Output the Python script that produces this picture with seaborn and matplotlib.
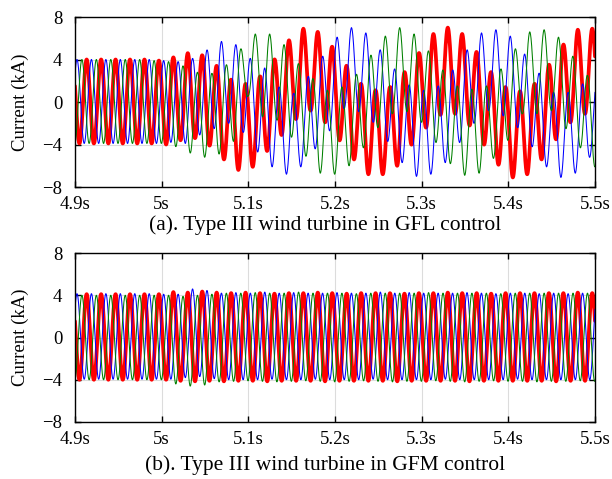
import numpy as np
import pandas as pd
import matplotlib
matplotlib.use("Agg")
import matplotlib.pyplot as plt
import seaborn as sns

# time window and grid frequency
t_start, t_end = 4.9, 5.5
f_grid = 60.0

# time of the first positive peak of each phase (s)
red_t0 = 4.9135
blue_t0 = 4.9190
green_t0 = 4.9080

# (a) GFL control: peak / trough value of every cycle (kA)
gfl_red_peaks = [4.0, 4.0, 4.0, 4.0, 4.0, 3.9, 4.2, 4.6, 4.4, 3.4, 2.1, 1.7,
                 2.4, 4.0, 5.8, 6.9, 6.6, 5.2, 3.4, 1.7, 1.1, 1.4, 2.8, 4.6,
                 6.4, 7.0, 6.4, 4.7, 2.8, 1.4, 1.0, 1.7, 3.5, 5.4, 6.8, 6.9]
gfl_red_troughs = [-3.9, -3.9, -3.9, -3.9, -3.9, -4.0, -3.6, -3.4, -4.1, -5.4, -6.4, -6.1,
                   -4.6, -3.1, -1.6, -0.8, -1.9, -3.6, -5.4, -6.8, -6.8, -6.0, -4.0, -2.4,
                   -1.2, -1.1, -2.2, -4.0, -5.9, -7.1, -6.8, -5.4, -3.5, -1.9, -1.1, -1.5]
gfl_blue_peaks = [4.0, 4.0, 4.0, 4.0, 4.0, 3.9, 3.8, 4.1, 4.9, 5.7, 5.4, 4.1,
                  3.2, 1.4, 0.8, 2.4, 4.3, 6.1, 7.0, 6.5, 4.9, 3.1, 1.6, 1.1,
                  1.5, 3.0, 4.9, 6.5, 6.8, 6.2, 4.5, 2.7, 0.9, 0.9, 1.7, 2.2]
gfl_blue_troughs = [-3.9, -3.9, -3.9, -3.9, -3.9, -3.8, -3.9, -3.1, -2.5, -2.0, -2.85, -4.7,
                    -6.1, -6.8, -6.1, -4.4, -2.7, -0.6, -0.9, -1.9, -3.7, -5.7, -7.0, -6.8,
                    -5.7, -3.8, -2.0, -0.8, -1.3, -2.4, -4.2, -6.1, -7.1, -6.7, -5.2, -3.5]
gfl_green_peaks = [4.0, 4.0, 4.0, 4.0, 4.0, 3.9, 3.8, 3.4, 2.8, 2.7, 3.5, 5.0,
                   6.4, 6.4, 5.4, 3.6, 2.2, 1.1, 1.4, 2.6, 4.4, 6.2, 7.0, 6.4,
                   4.8, 3.0, 1.5, 1.2, 1.5, 3.1, 5.0, 6.6, 6.8, 6.1, 4.3, 2.5]
gfl_green_troughs = [-3.9, -3.9, -3.9, -3.9, -3.9, -3.9, -4.2, -4.8, -5.2, -4.9, -3.7, 0.6,
                     -1.4, -1.7, -3.3, -5.1, -6.7, -6.8, -6.0, -4.3, -2.4, -1.1, -0.9, -1.9,
                     -3.8, -5.8, -6.9, -6.7, -5.3, -3.6, -1.1, -1.1, -0.8, -2.5, -4.3, -6.1]

# (b) GFM control
gfm_red_peaks = [4.1, 4.1, 4.1, 4.1, 4.1, 4.1, 4.3, 4.25, 4.35, 4.25, 4.2, 4.25,
                 4.2, 4.15, 4.2, 4.2, 4.25, 4.2, 4.15, 4.2, 4.2, 4.2, 4.15, 4.2,
                 4.2, 4.25, 4.2, 4.2, 4.15, 4.2, 4.2, 4.2, 4.2, 4.2, 4.25, 4.2]
gfm_red_troughs = [-4.0, -4.0, -4.0, -4.0, -4.0, -4.0, -4.1, -4.15, -4.1, -4.15, -4.1, -4.1,
                   -4.15, -4.1, -4.1, -4.1, -4.15, -4.1, -4.1, -4.1, -4.1, -4.15, -4.1, -4.1,
                   -4.1, -4.1, -4.15, -4.1, -4.1, -4.1, -4.1, -4.1, -4.15, -4.1, -4.1, -4.1]
gfm_blue_peaks = [4.15, 4.15, 4.15, 4.15, 4.15, 4.1, 4.1, 4.6, 4.45, 4.2, 4.25, 4.2,
                  4.3, 4.2, 4.25, 4.2, 4.2, 4.25, 4.2, 4.2, 4.3, 4.2, 4.25, 4.2,
                  4.2, 4.2, 4.25, 4.2, 4.15, 4.2, 4.2, 4.15, 4.2, 4.15, 4.2, 4.15]
gfm_blue_troughs = [-3.95, -3.95, -3.95, -3.95, -3.95, -3.95, -3.8, -3.7, -3.9, -4.0, -4.0, -4.0,
                    -3.95, -4.0, -4.0, -3.95, -4.0, -4.0, -4.0, -3.95, -4.0, -4.0, -4.0, -4.0,
                    -3.95, -4.0, -4.0, -4.0, -4.0, -3.95, -4.0, -4.0, -4.0, -4.0, -4.0, -4.0]
gfm_green_peaks = [4.0, 4.0, 4.0, 4.0, 4.0, 4.0, 4.0, 3.9, 4.0, 4.1, 4.2, 4.2,
                   4.25, 4.2, 4.2, 4.3, 4.2, 4.2, 4.2, 4.15, 4.2, 4.2, 4.2, 4.2,
                   4.25, 4.2, 4.2, 4.2, 4.2, 4.15, 4.2, 4.2, 4.2, 4.2, 4.2, 4.2]
gfm_green_troughs = [-4.0, -4.0, -4.0, -4.0, -4.0, -4.0, -4.4, -4.6, -4.5, -4.2, -4.15, -4.1,
                     -4.15, -4.2, -4.15, -4.1, -4.15, -4.2, -4.15, -4.1, -4.15, -4.2, -4.15, -4.15,
                     -4.1, -4.15, -4.2, -4.15, -4.1, -4.15, -4.15, -4.2, -4.15, -4.15, -4.1, -4.15]

x_ticks = [4.9, 5.0, 5.1, 5.2, 5.3, 5.4, 5.5]
x_tick_labels = ["4.9s", "5s", "5.1s", "5.2s", "5.3s", "5.4s", "5.5s"]
y_ticks = [-8, -4, 0, 4, 8]
captions = ["(a). Type III wind turbine in GFL control",
            "(b). Type III wind turbine in GFM control"]


def build_wave(t, t0, peaks, troughs):
    # sine at grid frequency riding on the peak / trough envelopes
    k = np.arange(len(peaks))
    tp = t0 + k / f_grid
    tt = tp + 0.5 / f_grid
    up = np.interp(t, tp, peaks)
    lo = np.interp(t, tt, troughs)
    return (up + lo) / 2 + (up - lo) / 2 * np.cos(2 * np.pi * f_grid * (t - t0))


t = np.linspace(t_start, t_end, 4001)

sns.set_style("white")
plt.rcParams["font.family"] = ["Liberation Serif", "DejaVu Serif"]
plt.rcParams["text.color"] = "black"
plt.rcParams["axes.labelcolor"] = "black"

fig = plt.figure(figsize=(6.12, 4.79), dpi=100)
ax_a = fig.add_axes([0.1225, 0.6096, 0.8497, 0.3549])
ax_b = fig.add_axes([0.1225, 0.1190, 0.8497, 0.3528])

panels = [
    (ax_a, [(gfl_red_peaks, gfl_red_troughs), (gfl_blue_peaks, gfl_blue_troughs),
            (gfl_green_peaks, gfl_green_troughs)]),
    (ax_b, [(gfm_red_peaks, gfm_red_troughs), (gfm_blue_peaks, gfm_blue_troughs),
            (gfm_green_peaks, gfm_green_troughs)]),
]
phase_t0 = [red_t0, blue_t0, green_t0]
phase_colors = ["#ff0000", "#0000ff", "#008000"]
phase_widths = [2.7, 0.75, 0.75]

for (ax, phases), cap, ycap in zip(panels, captions, [0.531, 0.028]):
    for (pk, tr), t0, c, lw in zip(phases, phase_t0, phase_colors, phase_widths):
        df = pd.DataFrame({"t": t, "I": build_wave(t, t0, pk, tr)})
        sns.lineplot(data=df, x="t", y="I", ax=ax, color=c, linewidth=lw,
                     estimator=None, legend=False)
    ax.set_xlim(t_start, t_end)
    ax.set_ylim(-8, 8)
    ax.set_xticks(x_ticks)
    ax.set_xticklabels(x_tick_labels)
    ax.set_yticks(y_ticks)
    ax.grid(True, color="#dcdcdc", linewidth=0.8)
    ax.set_axisbelow(True)
    ax.tick_params(direction="in", bottom=True, left=True, top=True, right=True,
                   length=4.5, width=1.0, labelsize=13.5, color="black",
                   labelcolor="black")
    ax.tick_params(axis="x", pad=6.5)
    ax.tick_params(axis="y", pad=9)
    for s in ax.spines.values():
        s.set_color("black")
        s.set_linewidth(1.0)
    ax.set_xlabel("")
    ax.set_ylabel("Current (kA)", fontsize=13.5, color="black")
    ax.yaxis.set_label_coords(-0.088, 0.5)
    fig.text(0.531, ycap, cap, ha="center", va="center", fontsize=15.5,
             color="black")

fig.savefig("out.png", dpi=100)
